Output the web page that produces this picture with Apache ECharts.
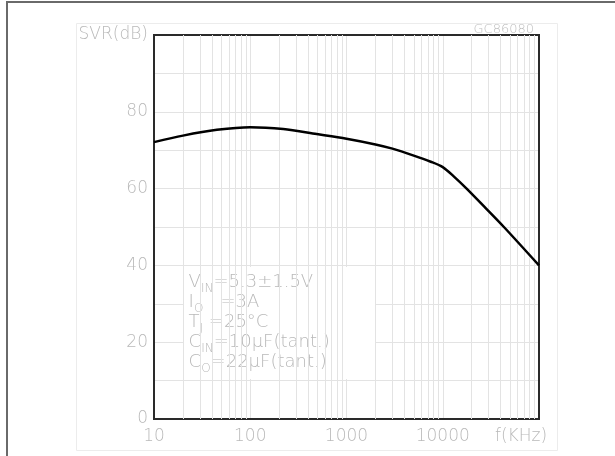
<!DOCTYPE html>
<html>
<head>
<meta charset="utf-8">
<script src="https://cdn.jsdelivr.net/npm/echarts@6/dist/echarts.min.js"></script>
<style>
  html, body { margin: 0; padding: 0; background: #fff; }
  #wrap { position: relative; width: 615px; height: 456px; overflow: hidden; }
  #chart { position: absolute; left: 0; top: 0; width: 615px; height: 456px; }
  #edge { position: absolute; left: 6px; top: 1px; right: -4px; bottom: -4px;
          border-left: 2px solid #6a6a6a; border-top: 2px solid #6a6a6a; pointer-events: none; }
</style>
</head>
<body>
<div id="wrap">
  <div id="chart"></div>
  <div id="edge"></div>
</div>
<script>
// Supply voltage rejection vs. ripple frequency
const freqKHz = [10, 20, 45, 100, 220, 490, 1000, 2000, 3000, 5000, 7500, 10000, 13000, 17700, 27000, 43200, 100000];
const svrDb   = [72.1, 73.8, 75.3, 76.0, 75.5, 74.2, 73.0, 71.5, 70.4, 68.6, 67.0, 65.6, 63.2, 60.0, 55.3, 50.0, 40.0];

// Axis ticks and labels
const xTickValues = [10, 100, 1000, 10000];
const xTickLabels = ['10', '100', '1000', '10000'];
const xMinorGrid = [20, 30, 40, 50, 60, 70, 80, 90,
                    200, 300, 400, 500, 600, 700, 800, 900,
                    2000, 3000, 4000, 5000, 6000, 7000, 8000, 9000,
                    20000, 30000, 40000, 50000, 60000, 70000, 80000, 90000];
const yTickValues = [0, 20, 40, 60, 80, 100];
const yTickLabels = ['0', '20', '40', '60', '80', 'SVR(dB)'];
const xAxisTitle = 'f(KHz)';
const chartCode = 'GC86080';

// Test conditions: [symbol, subscript, rest]
const condSymbol = ['V', 'I', 'T', 'C', 'C'];
const condSub    = ['IN', 'O', 'J', 'IN', 'O'];
const condRest   = ['=5.3\u00B11.5V', '   =3A', ' =25\u00B0C', '=10\u00B5F(tant.)', '=22\u00B5F(tant.)'];
// Extent of the conditions box in data units [f1, y1, f2, y2]
const condBox = [20.3, 39.6, 1980, 10.4];

const FONT = '"DejaVu Sans", sans-serif';
const TXT = '#b9b9b9';
const GRID = '#e3e3e3';

const condText = condSymbol.map((s, i) => `{m|${s}}{s|${condSub[i]}}{m|${condRest[i]}}`).join('\n');

const chart = echarts.init(document.getElementById('chart'), null, { renderer: 'canvas' });
chart.setOption({
  animation: false,
  backgroundColor: '#fff',
  title: {
    text: chartCode, right: 76, top: 18,
    textStyle: { color: '#bdbdbd', fontFamily: FONT, fontSize: 13, fontWeight: 200 }
  },
  graphic: [{
    type: 'rect', left: 74, top: 21, z: -1,
    shape: { width: 481, height: 427 },
    style: { fill: 'none', stroke: '#ececec', lineWidth: 1 }
  }],
  grid: {
    left: 154, right: 76, top: 35, bottom: 37, z: 5,
    show: true, borderColor: '#2a2a2a', borderWidth: 2, backgroundColor: 'transparent'
  },
  xAxis: {
    type: 'log', logBase: 10, min: 10, max: 100000,
    name: xAxisTitle, nameLocation: 'end', nameGap: -44,
    nameTextStyle: { color: TXT, fontFamily: FONT, fontSize: 17, fontWeight: 200, verticalAlign: 'top', padding: [9, 0, 0, 0] },
    axisLine: { show: false }, axisTick: { show: false },
    splitLine: { show: true, lineStyle: { color: GRID, width: 1 } },
    axisLabel: {
      color: TXT, fontFamily: FONT, fontSize: 17, fontWeight: 200, margin: 9,
      formatter: v => {
        const i = xTickValues.findIndex(t => Math.abs(t - v) / t < 1e-6);
        return i >= 0 ? xTickLabels[i] : '';
      }
    }
  },
  yAxis: {
    type: 'value', min: 0, max: 100, interval: 20,
    axisLine: { show: false }, axisTick: { show: false },
    splitLine: { show: true, lineStyle: { color: GRID, width: 1 } },
    minorTick: { show: false, splitNumber: 2 },
    minorSplitLine: { show: true, lineStyle: { color: GRID, width: 1 } },
    axisLabel: {
      color: TXT, fontFamily: FONT, fontSize: 17, fontWeight: 200, margin: 6,
      formatter: v => {
        const i = yTickValues.indexOf(v);
        return i >= 0 ? yTickLabels[i] : '';
      }
    }
  },
  series: [
    {
      // minor decade grid lines
      type: 'line', data: [], z: 1, silent: true,
      markLine: {
        silent: true, symbol: 'none', animation: false,
        label: { show: false },
        lineStyle: { color: GRID, width: 1, type: 'solid' },
        data: xMinorGrid.map(v => ({ xAxis: v }))
      }
    },
    {
      // conditions box
      type: 'line', data: [], z: 3, silent: true,
      markArea: {
        silent: true,
        itemStyle: { color: '#fff', borderWidth: 0 },
        label: {
          show: true, position: 'insideTopLeft', distance: 5,
          formatter: condText,
          rich: {
            m: { color: TXT, fontFamily: FONT, fontSize: 18, fontWeight: 200, lineHeight: 20 },
            s: { color: TXT, fontFamily: FONT, fontSize: 12, fontWeight: 200, lineHeight: 20, verticalAlign: 'bottom', padding: [0, 0, -3, 0] }
          }
        },
        data: [[{ xAxis: condBox[0], yAxis: condBox[1] }, { xAxis: condBox[2], yAxis: condBox[3] }]]
      }
    },
    {
      name: 'SVR', type: 'line', z: 6,
      data: freqKHz.map((f, i) => [f, svrDb[i]]),
      smooth: 0.3, showSymbol: false,
      lineStyle: { color: '#000', width: 2.5 }
    }
  ]
});
</script>
</body>
</html>
